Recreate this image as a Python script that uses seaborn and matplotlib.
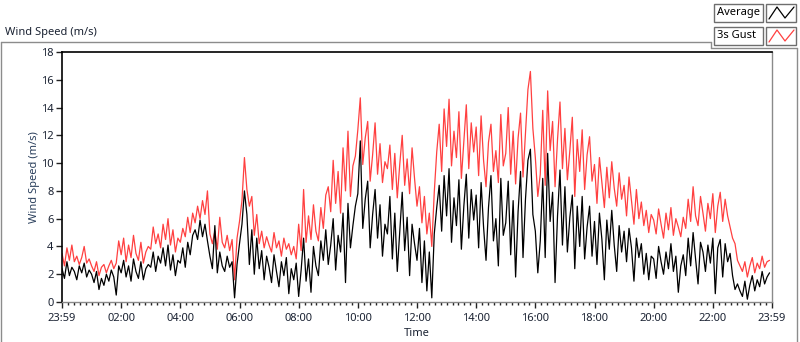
import numpy as np
import pandas as pd
import seaborn as sns
import matplotlib.pyplot as plt
from matplotlib.lines import Line2D
from matplotlib.patches import Rectangle
from matplotlib.ticker import FixedLocator, MultipleLocator, FixedFormatter

# 3s gust (m/s), one value every 5 minutes, one row per hour starting 23:59
gust = [
    3.5, 2.6, 3.9, 3.0, 4.1, 2.9, 3.3, 2.7, 3.2, 4.0, 2.8, 3.1,
    2.6, 2.2, 2.9, 1.9, 2.5, 2.7, 2.1, 2.6, 3.0, 2.4, 2.8, 4.4,
    3.4, 4.6, 2.9, 4.1, 3.2, 4.8, 3.5, 3.0, 4.3, 2.8, 3.6, 4.0,
    3.8, 5.4, 4.2, 4.9, 3.9, 5.6, 4.5, 6.0, 4.1, 5.2, 3.6, 4.6,
    4.3, 5.3, 4.7, 6.1, 5.0, 6.4, 5.7, 6.9, 6.0, 7.3, 6.3, 8.0,
    4.9, 4.2, 5.1, 3.8, 6.1, 4.3, 3.9, 4.8, 3.7, 4.5, 1.6, 4.6,
    5.8, 7.3, 10.4, 8.1, 6.9, 7.6, 4.8, 6.3, 4.2, 5.1, 3.9, 4.7,
    4.1, 3.6, 5.0, 3.9, 4.4, 3.3, 4.6, 3.8, 4.2, 3.4, 4.0, 3.1,
    5.6, 3.7, 8.1, 4.3, 6.2, 4.5, 7.0, 5.1, 4.4, 6.8, 5.3, 7.7,
    8.3, 6.5, 10.2, 7.1, 9.4, 6.4, 11.1, 8.0, 12.3, 7.6, 9.8, 10.5,
    12.4, 14.7, 9.9, 11.8, 13.0, 8.7, 10.6, 12.9, 9.2, 11.4, 8.6, 10.1,
    9.6, 11.3, 8.1, 10.7, 7.5, 9.9, 12.0, 8.4, 10.3, 7.8, 11.1, 8.9,
    6.9, 8.3, 5.7, 7.6, 4.9, 6.4, 4.0, 7.9, 10.8, 12.8, 9.4, 13.9,
    11.2, 14.6, 9.8, 12.3, 10.4, 13.7, 8.9, 11.6, 14.2, 9.6, 12.9, 10.8,
    12.6, 9.1, 13.4, 10.2, 8.3, 11.5, 12.8, 9.4, 10.9, 8.6, 13.5, 9.8,
    10.7, 14.0, 9.2, 12.3, 8.5, 11.8, 13.6, 9.0, 12.2, 15.3, 16.6, 12.5,
    10.4, 7.6, 9.2, 13.8, 8.4, 15.2, 10.9, 13.0, 8.3, 11.7, 14.4, 9.6,
    12.5, 8.8, 10.9, 13.3, 7.6, 11.7, 9.4, 12.4, 8.1, 10.6, 11.9, 8.7,
    9.9, 7.1, 10.4, 8.6, 6.8, 9.7, 7.5, 10.1, 8.2, 6.9, 9.3, 7.4,
    8.4, 6.2, 9.0, 7.3, 5.6, 8.1, 6.0, 7.2, 5.5, 6.6, 5.0, 6.3,
    5.9, 4.9, 6.7, 5.6, 4.6, 6.4, 5.2, 6.8, 4.8, 6.0, 5.4, 4.7,
    6.1, 5.3, 7.4, 5.8, 8.3, 6.2, 5.5, 7.6, 6.4, 5.1, 7.1, 6.0,
    7.8, 5.0, 6.9, 7.9, 5.8, 7.4, 6.2, 5.4, 4.6, 4.2, 3.0, 2.6,
    2.2, 2.9, 1.8, 2.6, 3.2, 2.1, 2.8, 2.4, 3.3, 2.5, 2.9, 3.0,
]

# average wind speed (m/s), same timestamps
average = [
    2.4, 1.7, 2.9, 1.9, 2.5, 2.2, 1.6, 2.6, 2.1, 2.8, 1.8, 2.3,
    2.0, 1.4, 2.2, 0.9, 1.7, 1.2, 2.0, 1.5, 2.3, 1.8, 0.5, 2.6,
    2.1, 3.0, 1.8, 2.6, 1.5, 3.1, 2.2, 1.7, 2.9, 1.6, 2.4, 2.7,
    2.5, 3.6, 2.2, 3.3, 2.8, 3.9, 2.6, 4.1, 2.3, 3.4, 1.9, 3.0,
    2.8, 3.9, 2.5, 4.3, 3.4, 4.8, 5.2, 4.5, 5.9, 4.7, 5.6, 4.4,
    3.3, 2.4, 5.5, 2.1, 3.6, 2.6, 2.2, 3.3, 2.5, 2.9, 0.3, 2.7,
    4.2, 5.6, 8.0, 6.3, 2.7, 5.2, 2.0, 4.6, 2.4, 3.7, 1.6, 3.3,
    2.5, 1.4, 3.4, 2.2, 1.1, 2.9, 1.9, 3.2, 0.6, 2.4, 1.6, 2.8,
    0.4, 2.3, 4.6, 1.5, 3.1, 0.7, 4.0, 2.6, 1.9, 4.4, 3.0, 5.2,
    2.7, 4.1, 6.0, 2.3, 4.8, 3.6, 6.4, 1.4, 7.1, 3.9, 5.5, 6.9,
    7.8, 11.6, 5.3, 7.4, 8.7, 3.9, 6.3, 8.1, 4.6, 7.0, 3.3, 5.6,
    4.9, 7.6, 3.1, 6.4, 2.2, 5.0, 7.9, 3.7, 6.1, 1.9, 5.6, 4.2,
    3.0, 5.3, 1.4, 4.4, 0.8, 3.6, 0.3, 4.9, 6.8, 8.4, 5.1, 9.1,
    6.2, 9.6, 4.3, 7.5, 5.5, 8.8, 3.8, 6.9, 9.2, 4.6, 8.1, 5.9,
    7.7, 3.9, 8.6, 5.4, 3.0, 6.8, 9.1, 4.4, 6.0, 2.6, 8.9, 4.8,
    5.7, 8.7, 3.4, 7.3, 1.8, 6.5, 9.4, 3.2, 7.4, 10.2, 11.0, 6.3,
    5.1, 2.1, 4.4, 8.9, 3.2, 10.7, 5.8, 7.9, 1.4, 6.2, 9.5, 4.1,
    8.3, 3.6, 6.1, 7.7, 2.4, 6.9, 4.0, 7.6, 3.1, 5.4, 6.9, 3.3,
    5.8, 2.7, 6.4, 4.5, 1.6, 5.9, 3.8, 6.6, 4.1, 2.2, 5.5, 3.6,
    5.1, 2.9, 5.3, 3.9, 1.5, 4.6, 3.2, 4.2, 2.0, 3.5, 1.6, 3.3,
    3.1, 1.7, 4.0, 2.9, 2.0, 3.6, 2.4, 4.2, 2.2, 3.3, 0.7, 2.6,
    3.4, 1.9, 4.6, 2.6, 5.0, 3.1, 1.3, 4.3, 3.6, 2.2, 4.1, 2.8,
    4.6, 0.6, 3.9, 4.5, 1.8, 4.2, 2.9, 3.5, 1.9, 0.9, 1.3, 0.8,
    0.4, 1.5, 0.2, 1.2, 1.9, 0.8, 1.6, 1.1, 2.2, 1.3, 1.8, 2.1,
]

tick_labels = ["23:59", "02:00", "04:00", "06:00", "08:00", "10:00", "12:00",
               "14:00", "16:00", "18:00", "20:00", "22:00", "23:59"]

minutes = np.arange(len(gust)) * 5
df = pd.DataFrame({"minute": minutes, "gust": gust, "average": average})

sns.set_theme(style="white")
plt.rcParams["font.family"] = ["Noto Sans", "DejaVu Sans"]

W, H = 800, 342
fig = plt.figure(figsize=(W / 100, H / 100), dpi=100)


def px(x, y):
    return x / W, 1 - y / H


ax = fig.add_axes([62 / W, 1 - 302 / H, 710 / W, 250 / H])

# red first, black drawn on top
sns.lineplot(data=df, x="minute", y="gust", color="#ff4040", linewidth=0.9,
             estimator=None, ax=ax)
sns.lineplot(data=df, x="minute", y="average", color="black", linewidth=0.9,
             estimator=None, ax=ax)

ax.set_xlim(0, 1440)
ax.set_ylim(0, 18)
ax.set_yticks(range(0, 19, 2))
ax.xaxis.set_major_locator(FixedLocator(list(range(0, 1441, 120))))
ax.xaxis.set_major_formatter(FixedFormatter(tick_labels))
ax.xaxis.set_minor_locator(MultipleLocator(12))

text_col = "#1b2333"
ax.tick_params(axis="both", which="major", direction="out", length=4, width=1,
               color="#222222", labelsize=8, labelcolor=text_col, pad=2,
               bottom=True, left=True)
ax.tick_params(axis="x", which="major", pad=4)
ax.tick_params(axis="x", which="minor", direction="out", length=2, width=1,
               color="#222222", bottom=True)

ax.set_xlabel("Time", fontsize=8, color=text_col, labelpad=3)
ax.set_ylabel("Wind Speed (m/s)", fontsize=8, color="#2a3f5c", labelpad=1)

for side in ["top", "left"]:
    ax.spines[side].set_color("black")
    ax.spines[side].set_linewidth(1.2)
for side in ["right", "bottom"]:
    ax.spines[side].set_color("#8a8a8a")
    ax.spines[side].set_linewidth(1.0)

# outer LabVIEW-style frame
frame = "#8c8c8c"
for xs, ys in [([1, 711], [42, 42]), ([711, 711], [42, 48]), ([711, 797], [48, 48]),
               ([797, 797], [48, 342]), ([1, 1], [42, 342])]:
    p0 = px(xs[0], ys[0])
    p1 = px(xs[1], ys[1])
    fig.add_artist(Line2D([p0[0], p1[0]], [p0[1], p1[1]], color=frame, lw=1,
                          transform=fig.transFigure))

fig.text(*px(5, 32), "Wind Speed (m/s)", fontsize=8, color=text_col,
         ha="left", va="center")

# legend boxes
legend_rows = [("Average", "black", 4), ("3s Gust", "#ff4040", 27)]
for label, col, top in legend_rows:
    x0, y0 = px(714, top + 18)
    fig.add_artist(Rectangle((x0, y0), 49 / W, 18 / H, transform=fig.transFigure,
                             facecolor="white", edgecolor="#6e6e6e", lw=1))
    x0, y0 = px(766, top + 18)
    fig.add_artist(Rectangle((x0, y0), 30 / W, 18 / H, transform=fig.transFigure,
                             facecolor="white", edgecolor="#6e6e6e", lw=1))
    fig.text(*px(717, top + 9), label, fontsize=8, color="black",
             ha="left", va="center")
    zx = [769, 777, 785, 794]
    zy = [top + 15, top + 3, top + 14, top + 3]
    pts = [px(a, b) for a, b in zip(zx, zy)]
    fig.add_artist(Line2D([p[0] for p in pts], [p[1] for p in pts], color=col,
                          lw=0.9, transform=fig.transFigure))

fig.savefig("out.png", dpi=100)
